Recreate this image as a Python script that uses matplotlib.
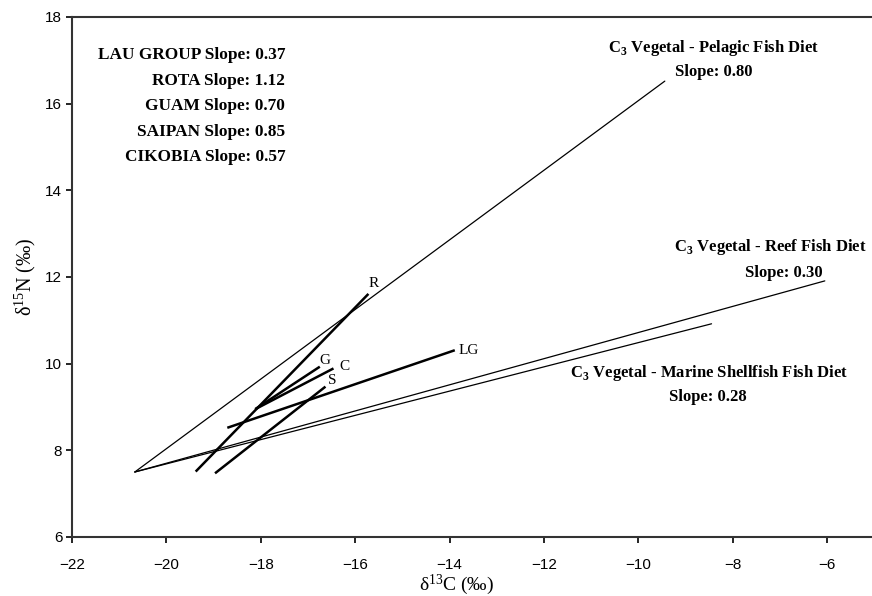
import numpy as np
import matplotlib.pyplot as plt

plt.rcParams["mathtext.fontset"] = "custom"
plt.rcParams["mathtext.rm"] = "Liberation Serif"
plt.rcParams["mathtext.bf"] = "Liberation Serif:bold"

# end points (d13C, d15N) of each regression line
diet_names = ["Pelagic", "Reef", "Shellfish"]
diet_start = [(-20.67, 7.50), (-20.67, 7.50), (-20.67, 7.50)]
diet_end = [(-9.44, 16.52), (-6.05, 11.91), (-8.45, 10.92)]

island_tags = ["R", "G", "C", "S", "LG"]
island_start = [(-19.38, 7.51), (-18.12, 8.95), (-18.10, 8.96), (-18.97, 7.47), (-18.71, 8.52)]
island_end = [(-15.72, 11.61), (-16.75, 9.93), (-16.46, 9.89), (-16.63, 9.47), (-13.89, 10.31)]
# label offsets from the line end, in points
tag_offset = [(0, 3), (0, 0), (4, -3), (2, 0), (3, 0)]

slope_lines = ["LAU GROUP Slope: 0.37", "ROTA Slope: 1.12", "GUAM Slope: 0.70",
               "SAIPAN Slope: 0.85", "CIKOBIA Slope: 0.57"]

xticks = np.arange(-22, -5, 2)
yticks = np.arange(6, 19, 2)

serif = "Liberation Serif"
narrow = ["Liberation Sans Narrow", "Liberation Sans", "DejaVu Sans"]

fig = plt.figure(figsize=(8.72, 5.96), dpi=100)
ax = fig.add_axes([0.0826, 0.099, 0.9174, 0.8725])

for s, e in zip(diet_start, diet_end):
    ax.plot([s[0], e[0]], [s[1], e[1]], color="black", lw=0.9, solid_capstyle="round")

for s, e, tag, off in zip(island_start, island_end, island_tags, tag_offset):
    ax.plot([s[0], e[0]], [s[1], e[1]], color="black", lw=1.8, solid_capstyle="butt")
    ax.annotate(tag, xy=e, xytext=off, textcoords="offset points",
                ha="left", va="bottom" if tag != "LG" else "center",
                fontsize=11, family=serif)

ax.set_xlim(-22, -5.05)
ax.set_ylim(6, 18)
ax.set_xticks(xticks)
ax.set_yticks(yticks)
ax.set_xticklabels([f"\u2212{abs(v)}" for v in xticks], family=narrow, fontsize=11)
ax.set_yticklabels([str(v) for v in yticks], family=narrow, fontsize=11)
ax.tick_params(direction="out", length=4, width=1.2)
ax.tick_params(axis="x", pad=11)
ax.tick_params(axis="y", pad=3)
ax.spines["right"].set_visible(False)
for side in ["left", "bottom", "top"]:
    ax.spines[side].set_linewidth(1.5)
    ax.spines[side].set_color("#333333")

ax.set_xlabel(r"$\mathregular{\delta^{13}}$C (‰)", family=serif, fontsize=14)
ax.set_ylabel(r"$\mathregular{\delta^{15}}$N (‰)", family=serif, fontsize=14.5)
ax.xaxis.set_label_coords(0.481, -0.068)
ax.yaxis.set_label_coords(-0.042, 0.5)

# slope summary for the island groups
for i, line in enumerate(slope_lines):
    ax.text(-17.48, 17.12 - i * 0.59, line, ha="right", va="center",
            family=serif, fontsize=12.4, fontweight="bold")

# diet baseline labels
diet_text = [
    (-8.40, 17.28, r"C$_\mathregular{3}$ Vegetal - Pelagic Fish Diet"),
    (-8.40, 16.73, "Slope: 0.80"),
    (-7.21, 12.69, r"C$_\mathregular{3}$ Vegetal - Reef Fish Diet"),
    (-6.92, 12.09, "Slope: 0.30"),
    (-8.50, 9.78, r"C$_\mathregular{3}$ Vegetal - Marine Shellfish Fish Diet"),
    (-8.53, 9.23, "Slope: 0.28"),
]
for x, y, s in diet_text:
    ax.text(x, y, s, ha="center", va="center", family=serif, fontsize=12, fontweight="bold")

fig.savefig("out.png", dpi=100)
